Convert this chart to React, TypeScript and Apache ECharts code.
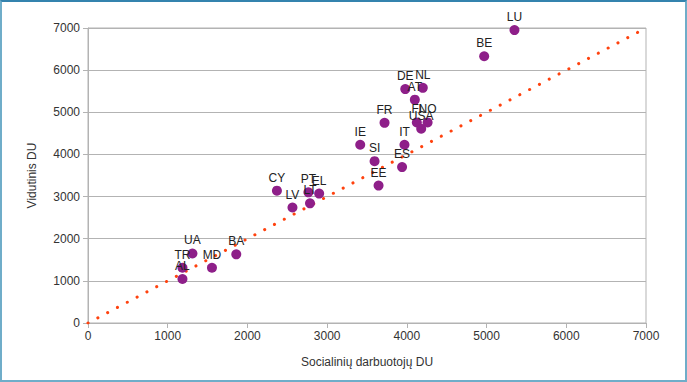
import React, { useEffect, useRef } from "react";
import * as echarts from "echarts";

const countries = ["LU", "BE", "DE", "NL", "AT", "FI", "NO", "USA", "FR", "IE", "IT", "SI", "ES", "EE", "CY", "PT", "EL", "LT", "LV", "UA", "BA", "TR", "MD", "AL"];
const socialWage = [5350, 4970, 3980, 4200, 4100, 4125, 4260, 4180, 3720, 3415, 3970, 3595, 3940, 3645, 2370, 2765, 2900, 2785, 2565, 1310, 1860, 1185, 1555, 1185];
const averageWage = [6950, 6330, 5550, 5580, 5300, 4760, 4760, 4610, 4750, 4230, 4230, 3840, 3700, 3260, 3140, 3100, 3070, 2840, 2740, 1650, 1630, 1310, 1310, 1045];
const diagonal = [[0, 0], [7000, 7000]];

const FONT = "'Liberation Sans', Arial, sans-serif";

export default function App() {
  const ref = useRef<HTMLDivElement>(null);
  useEffect(() => {
    if (!ref.current) return;
    const chart = echarts.init(ref.current, null, { renderer: "svg" });
    const points = countries.map((c, i) => ({ name: c, value: [socialWage[i], averageWage[i]] }));
    chart.setOption({
      animation: false,
      backgroundColor: "#ffffff",
      textStyle: { fontFamily: FONT },
      grid: { left: 86, right: 39, top: 26, bottom: 57, show: true, borderColor: "#b3b3b3", borderWidth: 1, backgroundColor: "transparent" },
      xAxis: {
        type: "value",
        min: 0,
        max: 7000,
        interval: 1000,
        name: "Socialinių darbuotojų DU",
        nameLocation: "middle",
        nameGap: 33,
        nameTextStyle: { color: "#333333", fontSize: 12, fontFamily: FONT },
        axisLine: { lineStyle: { color: "#b3b3b3" } },
        axisTick: { show: true, length: 5, lineStyle: { color: "#b3b3b3" } },
        axisLabel: { color: "#333333", fontSize: 12, margin: 7, fontFamily: FONT, formatter: (v: number) => String(v) },
        splitLine: { show: false },
      },
      yAxis: {
        type: "value",
        min: 0,
        max: 7000,
        interval: 1000,
        name: "Vidutinis DU",
        nameLocation: "middle",
        nameGap: 50,
        nameTextStyle: { color: "#333333", fontSize: 12, fontFamily: FONT },
        axisLine: { show: true, lineStyle: { color: "#b3b3b3" } },
        axisTick: { show: true, length: 5, lineStyle: { color: "#b3b3b3" } },
        axisLabel: { color: "#333333", fontSize: 12, margin: 8, fontFamily: FONT, formatter: (v: number) => String(v) },
        splitLine: { show: true, lineStyle: { color: "#b3b3b3", width: 1 } },
      },
      series: [
        {
          type: "line",
          data: diagonal,
          showSymbol: false,
          z: 1,
          lineStyle: { color: "#ff420e", width: 3, type: [0.1, 11], cap: "round" },
          silent: true,
        },
        {
          type: "scatter",
          data: points,
          symbolSize: 10,
          z: 3,
          itemStyle: { color: "#8e1f89", opacity: 1 },
          label: {
            show: true,
            position: "top",
            distance: 2,
            formatter: "{b}",
            color: "#222222",
            fontSize: 12,
            fontFamily: FONT,
          },
        },
      ],
    });
    return () => chart.dispose();
  }, []);
  return (
    <div
      style={{
        position: "fixed",
        left: 0,
        top: 0,
        width: 687,
        height: 382,
        boxSizing: "border-box",
        borderLeft: "2px solid #6fadc9",
        borderRight: "2px solid #6fadc9",
        borderBottom: "2px solid #6fadc9",
        borderTop: "2px solid #3483ae",
        background: "#ffffff",
      }}
    >
      <div ref={ref} style={{ width: 683, height: 378 }} />
    </div>
  );
}
